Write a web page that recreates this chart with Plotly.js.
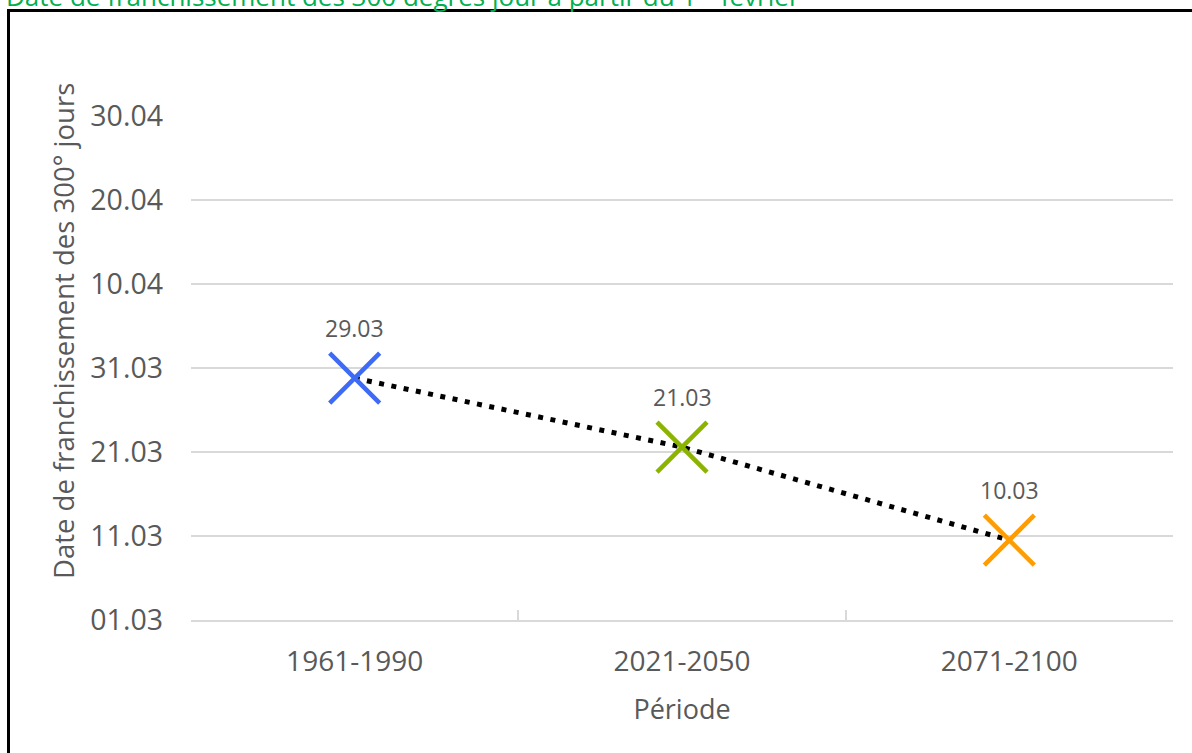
<!DOCTYPE html>
<html>
<head>
<meta charset="utf-8">
<script src="https://cdn.plot.ly/plotly-3.0.1.min.js"></script>
<style>
html,body{margin:0;padding:0;background:#fff;}
#chart{width:1192px;height:753px;}
</style>
</head>
<body>
<div id="chart"></div>
<script>
// Data
const periods = ['1961-1990', '2021-2050', '2071-2100'];
const crossingDates = ['2021-03-29 19:00', '2021-03-21 14:00', '2021-03-10 12:00'];
const dateLabels = ['29.03', '21.03', '10.03'];
const markerColors = ['#3D6BF5', '#8AB400', '#FF9C00'];
const yTickVals = ['2021-03-01', '2021-03-11', '2021-03-21', '2021-03-31', '2021-04-10', '2021-04-20', '2021-04-30'];
const yTickText = ['01.03', '11.03', '21.03', '31.03', '10.04', '20.04', '30.04'];
const chartTitle = 'Date de franchissement des 300 degrés jour à partir du 1<sup>er</sup> février';
const yTitle = 'Date de franchissement des 300° jours';
const xTitle = 'Période';

const FONT = 'Open Sans, Noto Sans, sans-serif';
const GRAY = '#595959';

const trace = {
  x: periods,
  y: crossingDates,
  type: 'scatter',
  mode: 'lines+markers',
  line: {color: '#000000', width: 5, dash: '5px,7.5px'},
  marker: {
    symbol: 'x-thin-open',
    size: 50,
    color: markerColors,
    line: {color: markerColors, width: 4.5}
  },
  hoverinfo: 'skip',
  showlegend: false
};

const labelAnnotations = periods.map((p, i) => ({
  x: p, y: crossingDates[i], xref: 'x', yref: 'y',
  text: dateLabels[i], showarrow: false, yshift: 50,
  font: {family: FONT, size: 23, color: GRAY}
}));

const layout = {
  width: 1192, height: 753,
  margin: {l: 191, r: 19, t: 116, b: 133},
  paper_bgcolor: '#ffffff',
  plot_bgcolor: '#ffffff',
  showlegend: false,
  xaxis: {
    type: 'category',
    range: [-0.5, 2.5],
    showgrid: false,
    showline: true, linecolor: '#D9D9D9', linewidth: 2,
    ticks: 'inside', ticklen: 10, tickcolor: '#D9D9D9', tickwidth: 2,
    tickson: 'boundaries',
    ticklabelstandoff: 15,
    tickfont: {family: FONT, size: 28, color: GRAY},
    title: {text: xTitle, font: {family: FONT, size: 27, color: GRAY}, standoff: 23},
    fixedrange: true
  },
  yaxis: {
    type: 'date',
    range: ['2021-03-01', '2021-04-30'],
    tickmode: 'array',
    tickvals: yTickVals,
    ticktext: yTickText,
    showgrid: true, gridcolor: '#D9D9D9', gridwidth: 2,
    zeroline: false, showline: false,
    ticks: '',
    ticklabelstandoff: 27,
    tickfont: {family: FONT, size: 28.5, color: GRAY},
    fixedrange: true
  },
  annotations: labelAnnotations.concat([
    {
      xref: 'paper', yref: 'paper',
      x: (63 - 191) / 982, y: (620 - 331) / 504,
      xanchor: 'center', yanchor: 'middle', textangle: -90,
      text: yTitle, showarrow: false,
      font: {family: FONT, size: 27.5, color: GRAY}
    },
    {
      xref: 'paper', yref: 'paper',
      x: -0.19, y: (620 + 5) / 504,
      xanchor: 'left', yanchor: 'middle',
      text: chartTitle, showarrow: false,
      font: {family: FONT, size: 26, color: '#00B050'}
    }
  ]),
  shapes: [
    {type: 'line', xref: 'paper', yref: 'paper', layer: 'above',
      x0: (8.5 - 191) / 982, x1: (8.5 - 191) / 982, y0: (620 - 10) / 504, y1: (620 - 760) / 504,
      line: {color: '#000000', width: 3}},
    {type: 'line', xref: 'paper', yref: 'paper', layer: 'above',
      x0: (7 - 191) / 982, x1: (1200 - 191) / 982, y0: (620 - 10.5) / 504, y1: (620 - 10.5) / 504,
      line: {color: '#000000', width: 3}}
  ]
};

Plotly.newPlot('chart', [trace], layout, {displayModeBar: false, staticPlot: true});
</script>
</body>
</html>
